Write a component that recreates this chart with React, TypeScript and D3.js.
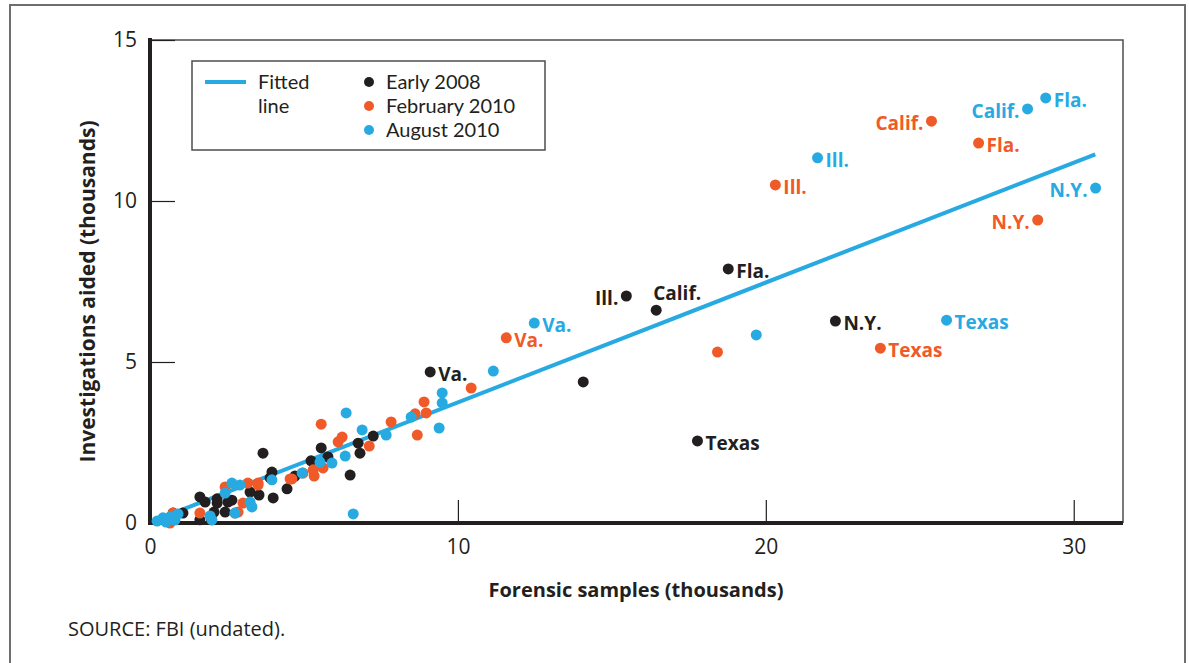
import React, { useEffect, useRef } from 'react'
import * as d3 from 'd3'

type Pt = [number, number, string?]

// Early 2008 (black)
const early2008: Pt[] = [
  [0.75, 0.31], [1.07, 0.31], [1.62, 0.1], [1.62, 0.81], [1.79, 0.65], [2.0, 0.1],
  [2.08, 0.34], [2.18, 0.62], [2.18, 0.75], [2.44, 0.34], [2.53, 0.65], [2.66, 0.71],
  [3.25, 0.96], [3.54, 0.87], [3.67, 2.17], [3.96, 1.58], [3.9, 1.4], [4.0, 0.78],
  [4.45, 1.06], [4.71, 1.46], [5.23, 1.93], [5.56, 2.33], [5.78, 2.05], [6.5, 1.49],
  [6.76, 2.48], [6.82, 2.17], [7.25, 2.7], [9.1, 4.69, 'Va.'], [14.07, 4.38],
  [15.47, 7.05, 'Ill.'], [16.44, 6.61, 'Calif.'], [17.78, 2.55, 'Texas'],
  [18.78, 7.89, 'Fla.'], [22.26, 6.27, 'N.Y.'],
]

// February 2010 (orange)
const feb2010: Pt[] = [
  [0.65, 0.0], [0.75, 0.31], [1.62, 0.31], [2.44, 1.12], [3.18, 1.24], [3.51, 1.24],
  [2.86, 0.34], [3.02, 0.62], [2.76, 0.31], [3.51, 1.18], [4.55, 1.37], [4.97, 1.55],
  [4.61, 1.37], [5.3, 1.65], [5.33, 1.46], [5.62, 1.71], [6.11, 2.52], [6.24, 2.67],
  [5.56, 3.07], [7.12, 2.39], [7.83, 3.14], [8.68, 2.73], [8.61, 3.39], [8.9, 3.76],
  [8.97, 3.42], [10.43, 4.19], [11.57, 5.75, 'Va.'], [18.43, 5.31],
  [20.31, 10.5, 'Ill.'], [23.72, 5.43, 'Texas'], [25.38, 12.48, 'Calif.'],
  [26.91, 11.8, 'Fla.'], [28.83, 9.41, 'N.Y.'],
]

// August 2010 (blue)
const aug2010: Pt[] = [
  [0.23, 0.06], [0.42, 0.16], [0.65, 0.19], [0.91, 0.28], [0.52, 0.03], [0.81, 0.09],
  [1.95, 0.22], [2.01, 0.1], [2.66, 1.24], [2.92, 1.18], [2.44, 0.93], [3.25, 0.65],
  [3.31, 0.5], [2.76, 0.31], [3.96, 1.34], [4.94, 1.55], [5.52, 1.89], [5.91, 1.86],
  [6.34, 2.08], [6.37, 3.42], [6.89, 2.89], [7.67, 2.73], [8.48, 3.29], [9.39, 2.95],
  [9.49, 4.04], [9.49, 3.73], [6.6, 0.28], [11.15, 4.72], [12.48, 6.21, 'Va.'],
  [19.69, 5.84], [21.68, 11.34, 'Ill.'], [25.87, 6.3, 'Texas'],
  [28.5, 12.86, 'Calif.'], [29.09, 13.2, 'Fla.'], [30.71, 10.4, 'N.Y.'],
]

const fittedLine: [number, number][] = [[0.2, 0.1], [30.7, 11.45]]

const xTicks = [0, 10, 20, 30]
const yTicks = [0, 5, 10, 15]

const series = [
  { name: 'Early 2008', color: '#231f20', points: early2008 },
  { name: 'February 2010', color: '#f05a28', points: feb2010 },
  { name: 'August 2010', color: '#27aae1', points: aug2010 },
]

// labels drawn to the left of the dot (rest go right)
const leftLabels = ['Early 2008:Ill.', 'February 2010:Calif.', 'February 2010:N.Y.', 'August 2010:Calif.', 'August 2010:N.Y.']
const aboveLabels = ['Early 2008:Calif.']

const FONT = '"Open Sans", "Noto Sans", sans-serif'
const LEGEND_FONT = 'Lato, "Open Sans", sans-serif'
const INK = '#231f20'

const App: React.FC = () => {
  const svgRef = useRef<SVGSVGElement>(null)

  useEffect(() => {
    const svg = d3.select(svgRef.current)
    svg.selectAll('*').remove()

    const x = d3.scaleLinear().domain([0, 31.6]).range([150, 1123])
    const y = d3.scaleLinear().domain([0, 15]).range([523, 40])

    // outer frame
    svg.append('rect')
      .attr('x', 10).attr('y', 5).attr('width', 1175).attr('height', 700)
      .attr('fill', 'white').attr('stroke', '#6d6e70').attr('stroke-width', 2)

    // inner frame top / right
    svg.append('path')
      .attr('d', `M${x(0)},${y(15)} H${x(31.6)} V${y(0)}`)
      .attr('fill', 'none').attr('stroke', '#4d4d4f').attr('stroke-width', 1.5)

    // y axis
    const yAxis = svg.append('g')
      .attr('transform', `translate(${x(0)},0)`)
      .call(d3.axisLeft(y).tickValues(yTicks).tickSize(-25).tickPadding(13))
    yAxis.select('.domain').remove()
    yAxis.selectAll('line').attr('stroke', INK).attr('stroke-width', 1.2)
    yAxis.selectAll('text').attr('font-family', FONT).attr('font-size', 21).attr('fill', INK)

    // x axis
    const xAxis = svg.append('g')
      .attr('transform', `translate(0,${y(0)})`)
      .call(d3.axisBottom(x).tickValues(xTicks).tickSize(-23).tickPadding(12))
    xAxis.select('.domain').remove()
    xAxis.selectAll('line').attr('stroke', INK).attr('stroke-width', 1.2)
    xAxis.selectAll('text').attr('font-family', FONT).attr('font-size', 21).attr('fill', INK)
      .attr('dy', '0.9em')

    // thick axis lines
    svg.append('path')
      .attr('d', `M${x(0)},${y(15) - 2} V${y(0)} H${x(31.6)}`)
      .attr('fill', 'none').attr('stroke', INK).attr('stroke-width', 4)

    // fitted line
    const line = d3.line<[number, number]>().x(d => x(d[0])).y(d => y(d[1]))
    svg.append('path')
      .datum(fittedLine)
      .attr('d', line)
      .attr('fill', 'none').attr('stroke', '#27aae1').attr('stroke-width', 4)

    // dots
    series.forEach(s => {
      svg.append('g').selectAll('circle')
        .data(s.points)
        .enter()
        .append('circle')
        .attr('cx', d => x(d[0]))
        .attr('cy', d => y(d[1]))
        .attr('r', 5.5)
        .attr('fill', s.color)
    })

    // state labels
    series.forEach(s => {
      s.points.filter(d => d[2]).forEach(d => {
        const key = `${s.name}:${d[2]}`
        const left = leftLabels.includes(key)
        const above = aboveLabels.includes(key)
        svg.append('text')
          .attr('x', above ? x(d[0]) - 3 : left ? x(d[0]) - 8 : x(d[0]) + 8)
          .attr('y', above ? y(d[1]) - 17 : y(d[1]) + 2)
          .attr('dy', '0.35em')
          .attr('text-anchor', left ? 'end' : 'start')
          .attr('font-family', FONT)
          .attr('font-weight', 'bold')
          .attr('font-size', 19)
          .attr('fill', s.color)
          .text(d[2] as string)
      })
    })

    // legend
    const lg = svg.append('g').attr('transform', 'translate(192,61)')
    lg.append('rect')
      .attr('width', 353).attr('height', 89)
      .attr('fill', 'white').attr('stroke', '#4d4d4f').attr('stroke-width', 1.5)
    lg.append('line')
      .attr('x1', 13).attr('x2', 54).attr('y1', 21).attr('y2', 21)
      .attr('stroke', '#27aae1').attr('stroke-width', 4)
    ;['Fitted', 'line'].forEach((t, i) => {
      lg.append('text')
        .attr('x', 66).attr('y', 21 + i * 24).attr('dy', '0.35em')
        .attr('font-family', LEGEND_FONT).attr('font-size', 20).attr('fill', INK)
        .text(t)
    })
    series.forEach((s, i) => {
      lg.append('circle')
        .attr('cx', 177).attr('cy', 21 + i * 24).attr('r', 5)
        .attr('fill', s.color)
      lg.append('text')
        .attr('x', 194).attr('y', 21 + i * 24).attr('dy', '0.35em')
        .attr('font-family', LEGEND_FONT).attr('font-size', 20).attr('fill', INK)
        .text(s.name)
    })

    // axis titles
    svg.append('text')
      .attr('transform', `translate(88,${(y(0) + y(15)) / 2 + 10}) rotate(-90)`)
      .attr('text-anchor', 'middle').attr('dy', '0.35em')
      .attr('font-family', FONT).attr('font-weight', 'bold').attr('font-size', 21)
      .attr('fill', INK)
      .text('Investigations aided (thousands)')

    svg.append('text')
      .attr('x', 636).attr('y', 590).attr('dy', '0.35em')
      .attr('text-anchor', 'middle')
      .attr('font-family', FONT).attr('font-weight', 'bold').attr('font-size', 20)
      .attr('fill', INK)
      .text('Forensic samples (thousands)')

    svg.append('text')
      .attr('x', 68).attr('y', 629).attr('dy', '0.35em')
      .attr('font-family', FONT).attr('font-size', 20)
      .attr('fill', INK)
      .text('SOURCE: FBI (undated).')
  }, [])

  return (
    <svg
      ref={svgRef}
      width={1189}
      height={663}
      style={{ position: 'absolute', left: 0, top: 0, background: 'white' }}
    />
  )
}

export default App
